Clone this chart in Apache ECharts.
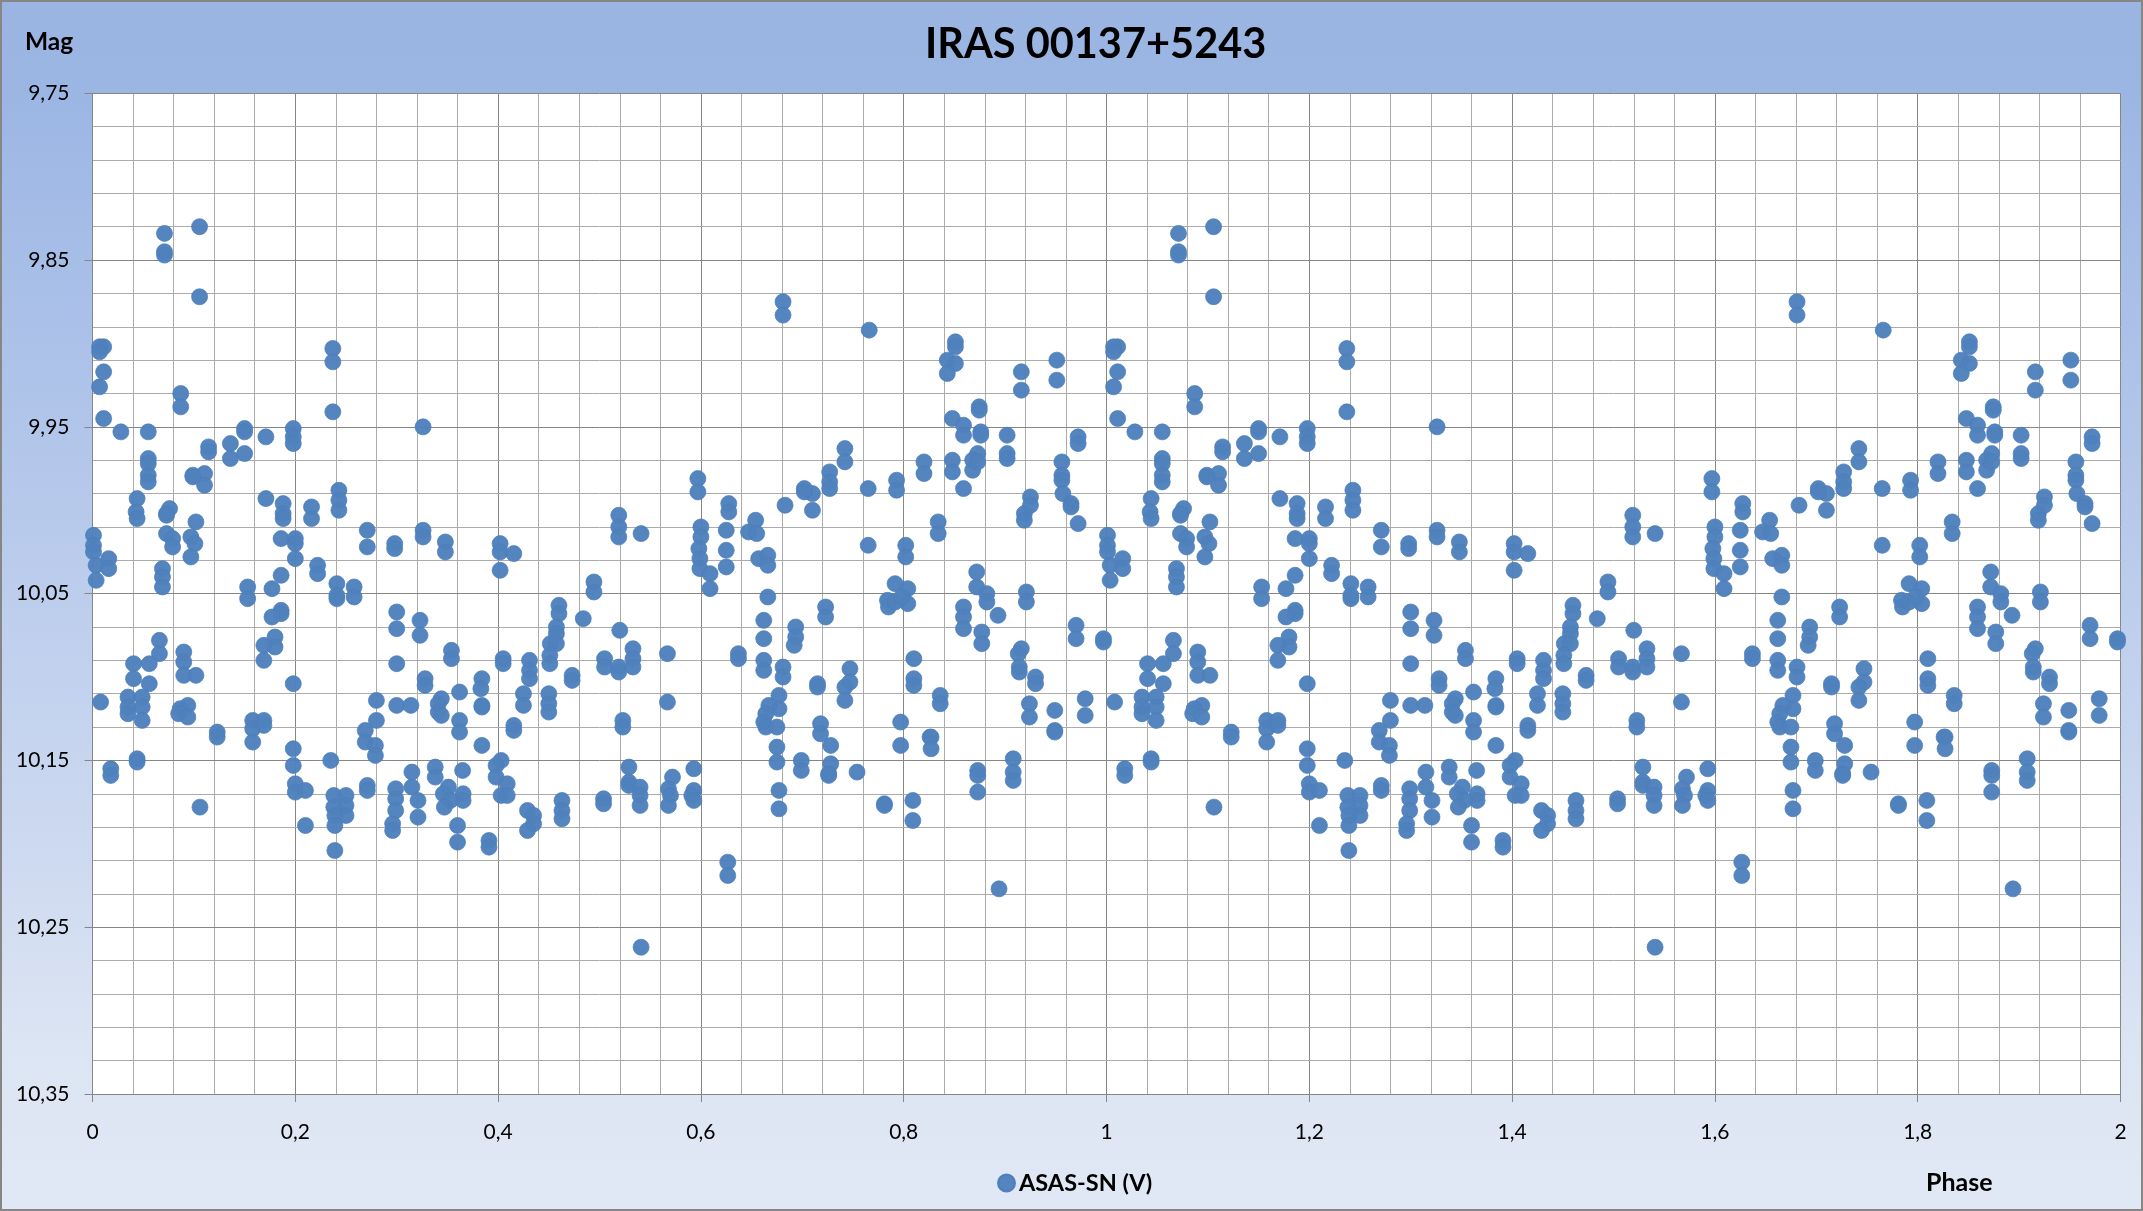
<!DOCTYPE html>
<html><head><meta charset="utf-8">
<style>html,body{margin:0;padding:0;background:#fff}#c{width:2143px;height:1211px}</style>
<script src="https://cdn.jsdelivr.net/npm/echarts@6/dist/echarts.min.js"></script>
</head><body><div id="c"></div>
<script>
const chartTitle = 'IRAS 00137+5243';
const seriesName = 'ASAS-SN (V)';
const xLabelValues = [0,0.2,0.4,0.6,0.8,1,1.2,1.4,1.6,1.8,2];
const yMajorValues = [9.75,9.85,9.95,10.05,10.15,10.25,10.35];
const yMinorValues = [9.77,9.79,9.81,9.83,9.87,9.89,9.91,9.93,9.97,9.99,10.01,10.03,10.07,10.09,10.11,10.13,10.17,10.19,10.21,10.23,10.27,10.29,10.31,10.33];
// One folded cycle [phase, magnitude]; the chart plots the cycle twice (phase, phase + 1).
const cycleBright = [
[.071,9.834],[.1056,9.83],[.071,9.845],[.071,9.847],[.1056,9.872],[.011,9.902],[.007,9.902],[.007,9.905],[.011,9.917],[.007,9.926],
[.237,9.903],[.237,9.911],[.087,9.93],[.087,9.938],[.237,9.941],[.011,9.945],[.028,9.953],[.055,9.953],[.326,9.95],[.15,9.951],[.15,9.953],
[.171,9.956],[.198,9.951],[.198,9.956],[.198,9.96],[.136,9.96],[.136,9.969],[.15,9.966],[.1145,9.962],[.1145,9.965],
[.055,9.969],[.055,9.972],[.055,9.979],[.055,9.983],[.099,9.979],[.1105,9.978],[.1105,9.985],[.099,9.98],
[.044,9.993],[.043,10.001],[.044,10.005],[.076,9.999],[.073,10.002],[.073,10.003],[.102,10.007],[.171,9.993],
[.188,9.996],[.188,10.002],[.188,10.005],[.216,9.998],[.216,10.005],[.243,9.988],[.243,9.994],[.243,10.0],[.271,10.012],[.326,10.012]
];
const cycleMiddleLeft = [
[.001,10.015],[.001,10.021],[.001,10.025],[.0036,10.033],[.0036,10.042],[.016,10.029],[.016,10.035],[.073,10.014],[.079,10.017],[.079,10.022],
[.097,10.016],[.101,10.02],[.097,10.028],[.069,10.035],[.069,10.04],[.069,10.046],[.186,10.017],[.2,10.017],[.2,10.02],[.2,10.029],
[.222,10.033],[.222,10.038],[.186,10.039],[.177,10.047],[.153,10.046],[.153,10.053],[.241,10.044],[.241,10.053],[.241,10.051],[.258,10.046],[.258,10.052],
[.271,10.022],[.298,10.02],[.298,10.023],[.326,10.016],[.348,10.019],[.348,10.025],[.402,10.02],[.402,10.025],[.402,10.036],[.4155,10.026],
[.4945,10.043],[.4945,10.049],[.186,10.06],[.186,10.062],[.177,10.064],[.18,10.076],[.18,10.082],[.169,10.081],[.169,10.09],
[.066,10.078],[.066,10.086],[.0405,10.092],[.0405,10.101],[.056,10.092],[.056,10.104],[.09,10.085],[.09,10.091],[.09,10.099],[.102,10.099],
[.008,10.115],[.035,10.112],[.035,10.118],[.035,10.122],[.049,10.112],[.049,10.118],[.049,10.126],[.094,10.117],[.0865,10.119],[.085,10.122],[.094,10.124],
[.123,10.133],[.123,10.136],[.158,10.126],[.158,10.131],[.158,10.139],[.169,10.126],[.169,10.129],[.198,10.104],[.198,10.143],[.198,10.153],
[.044,10.149],[.044,10.151],[.018,10.155],[.018,10.159],[.235,10.15],[.28,10.114],[.28,10.126],[.3,10.117],[.314,10.117],
[.269,10.132],[.269,10.139],[.279,10.141],[.279,10.147]
];
const cycleMiddleRight = [
[.3,10.061],[.3,10.071],[.3,10.092],[.323,10.066],[.323,10.075],[.328,10.101],[.328,10.105],[.354,10.084],[.354,10.089],[.405,10.089],[.405,10.092],
[.431,10.09],[.431,10.096],[.431,10.101],[.384,10.101],[.383,10.107],[.384,10.117],[.384,10.118],[.362,10.109],[.344,10.113],[.341,10.116],[.341,10.121],[.344,10.123],
[.362,10.126],[.362,10.133],[.384,10.141],[.425,10.11],[.425,10.117],[.45,10.11],[.45,10.116],[.45,10.121],[.4155,10.129],[.4155,10.132],
[.46,10.057],[.46,10.062],[.4575,10.07],[.4575,10.074],[.4515,10.08],[.4575,10.08],[.451,10.087],[.451,10.092],[.484,10.065],[.473,10.099],[.473,10.102]
];
const cycleFaintLeft = [
[.403,10.15],[.398,10.153],[.398,10.16],[.409,10.164],[.403,10.171],[.409,10.171],[.365,10.156],[.338,10.154],[.338,10.16],[.315,10.157],[.315,10.166],
[.321,10.174],[.321,10.184],[.299,10.167],[.299,10.173],[.299,10.18],[.296,10.188],[.296,10.192],[.271,10.165],[.271,10.168],
[.2,10.164],[.2,10.169],[.21,10.168],[.106,10.178],[.21,10.189],[.238,10.171],[.25,10.171],[.25,10.177],[.25,10.183],[.238,10.178],[.239,10.183],[.239,10.189],[.239,10.204],
[.351,10.166],[.346,10.17],[.3655,10.17],[.3655,10.174],[.353,10.174],[.347,10.178],[.36,10.189],[.36,10.199],[.391,10.198],[.391,10.202],
[.429,10.18],[.435,10.183],[.435,10.188],[.429,10.192],[.463,10.174],[.463,10.18],[.463,10.185]
];
const cycleRising = [
[.681,9.875],[.681,9.883],[.766,9.892],[.851,9.899],[.851,9.902],[.843,9.91],[.851,9.912],[.843,9.918],[.916,9.917],[.916,9.928],[.951,9.91],[.951,9.922],
[.8745,9.938],[.8745,9.94],[.848,9.945],[.859,9.949],[.859,9.955],[.876,9.953],[.876,9.955],[.902,9.955],[.902,9.966],[.902,9.969],[.972,9.956],[.972,9.96],
[.873,9.966],[.868,9.97],[.868,9.976],[.873,9.971],[.848,9.97],[.848,9.977],[.859,9.987],[.82,9.971],[.82,9.978],[.793,9.982],[.793,9.988],[.765,9.987],
[.742,9.963],[.742,9.971],[.727,9.977],[.727,9.983],[.727,9.987],[.702,9.987],[.71,9.99],[.702,9.989],[.71,10.0],[.683,9.997],[.6275,9.996],[.6275,10.001],
[.597,9.981],[.597,9.989],[.519,10.003],[.519,10.01],[.519,10.016],[.541,10.014],[.6,10.01],[.6,10.016],[.598,10.023],[.599,10.029],[.599,10.035],
[.609,10.038],[.609,10.047],[.625,10.012],[.625,10.024],[.625,10.034],[.654,10.006],[.647,10.013],[.655,10.014],[.657,10.029],[.666,10.027],[.666,10.033],[.666,10.052],
[.662,10.066],[.662,10.077],[.662,10.09],[.662,10.096],[.6935,10.07],[.6935,10.076],[.692,10.081],[.723,10.058],[.723,10.064],[.765,10.021],[.834,10.007],[.834,10.014],[.802,10.021],[.802,10.028]
];
const cycleRightMiddle = [
[.919,10.002],[.925,9.992],[.925,9.997],[.919,10.006],[.956,9.971],[.956,9.979],[.956,9.982],[.957,9.99],[.965,9.996],[.965,9.998],[.972,10.008],
[.872,10.037],[.872,10.046],[.882,10.05],[.882,10.055],[.921,10.049],[.921,10.055],[.859,10.058],[.859,10.064],[.859,10.071],[.893,10.063],[.877,10.073],[.877,10.08],
[.97,10.069],[.97,10.077],[.7915,10.044],[.804,10.047],[.784,10.054],[.785,10.058],[.7915,10.055],[.804,10.056],[.798,10.052],
[.916,10.083],[.913,10.086],[.914,10.094],[.914,10.097],[.93,10.1],[.93,10.104],[.997,10.077],[.997,10.079],[.52,10.072],
[.505,10.089],[.505,10.094],[.519,10.094],[.519,10.097],[.533,10.083],[.533,10.089],[.533,10.094],[.567,10.086],[.637,10.086],[.637,10.089],[.681,10.094],[.681,10.1],
[.81,10.089],[.81,10.101],[.81,10.105],[.747,10.095],[.747,10.103],[.742,10.106],[.742,10.114],[.715,10.104],[.715,10.106],
[.677,10.111],[.677,10.119],[.667,10.117],[.664,10.122],[.662,10.127],[.664,10.13],[.675,10.13],[.567,10.115],[.523,10.126],[.523,10.13],[.718,10.128],[.718,10.134],
[.797,10.127],[.836,10.111],[.836,10.116],[.826,10.136],[.924,10.116],[.924,10.124],[.949,10.12],[.949,10.132],[.979,10.113],[.979,10.123]
];
const cycleFaintRight = [
[.529,10.154],[.529,10.163],[.529,10.165],[.54,10.166],[.54,10.171],[.54,10.177],[.504,10.173],[.504,10.176],[.572,10.16],[.568,10.167],[.57,10.171],[.568,10.177],
[.593,10.155],[.593,10.168],[.591,10.171],[.593,10.174],[.6265,10.211],[.6265,10.219],[.541,10.262],[.675,10.142],[.675,10.151],[.677,10.168],[.677,10.179],
[.699,10.15],[.699,10.156],[.728,10.141],[.728,10.152],[.726,10.158],[.726,10.159],[.754,10.157],[.781,10.176],[.781,10.177],[.809,10.174],[.809,10.186],[.797,10.141],
[.827,10.136],[.827,10.143],[.873,10.156],[.873,10.159],[.873,10.169],[.908,10.149],[.908,10.157],[.908,10.162],[.894,10.227],[.949,10.133]
];
const cycleOne = [...cycleBright,...cycleMiddleLeft,...cycleMiddleRight,...cycleFaintLeft,...cycleRising,...cycleRightMiddle,...cycleFaintRight];
const points = [...cycleOne, ...cycleOne.map(p => [p[0] + 1, p[1]])];

const comma = v => String(+(+v).toFixed(2)).replace('.', ',');
const FONT = 'Lato';
const chart = echarts.init(document.getElementById('c'), null, {renderer:'canvas'});
chart.setOption({
  animation:false,
  backgroundColor:{type:'linear',x:0,y:0,x2:0,y2:1,colorStops:[
    {offset:0,color:'#9BB5E3'},{offset:.08,color:'#9CB6E4'},{offset:.4,color:'#B5C8EB'},{offset:.7,color:'#CDD9F0'},{offset:.87,color:'#DCE5F3'},{offset:1,color:'#E1E8F5'}]},
  grid:{left:92.5,right:22.5,top:93.3,bottom:117,backgroundColor:'#fff',show:true,borderWidth:0},
  title:[
    {text:chartTitle,left:925,top:24,textStyle:{fontFamily:FONT,fontWeight:'bold',fontSize:41.5,color:'#000'},padding:0},
    {text:'Mag',left:25,top:30,textStyle:{fontFamily:FONT,fontWeight:'bold',fontSize:24.5,color:'#000'},padding:0},
    {text:'Phase',left:1926,top:1170,textStyle:{fontFamily:FONT,fontWeight:'bold',fontSize:25,color:'#000'},padding:0}
  ],
  legend:{show:true,left:997,top:1171,itemWidth:17,itemHeight:17,itemGap:6,padding:0,data:[{name:seriesName,icon:'circle'}],
    textStyle:{fontFamily:FONT,fontWeight:'bold',fontSize:23.5,color:'#000',padding:[0,0,0,-1]}},
  xAxis:{type:'value',min:0,max:2,interval:.2,
    axisLine:{show:true,onZero:false,lineStyle:{color:'#868686',width:1}},
    axisTick:{show:true,inside:false,length:8,lineStyle:{color:'#868686',width:1},customValues:xLabelValues},
    axisLabel:{margin:28,fontFamily:FONT,fontSize:21,color:'#000',formatter:comma,customValues:xLabelValues,hideOverlap:false},
    splitLine:{show:true,lineStyle:{color:'#868686',width:1}},
    minorTick:{show:false,splitNumber:5},
    minorSplitLine:{show:true,lineStyle:{color:'#ABABAB',width:1}}},
  yAxis:[
    {type:'value',inverse:true,min:9.75,max:10.35,
      axisLine:{show:true,onZero:false,lineStyle:{color:'#868686',width:1}},
      axisTick:{show:true,length:8,lineStyle:{color:'#868686',width:1},customValues:yMajorValues},
      axisLabel:{margin:23,fontFamily:FONT,fontSize:21,color:'#000',formatter:comma,customValues:yMajorValues},
      splitLine:{show:true,lineStyle:{color:'#868686',width:1}},z:3},
    {type:'value',inverse:true,min:9.75,max:10.35,position:'left',
      axisLine:{show:false},axisLabel:{show:false},
      axisTick:{show:false,customValues:yMinorValues},
      splitLine:{show:true,lineStyle:{color:'#ABABAB',width:1}},z:1}
  ],
  graphic:[{type:'rect',silent:true,z:100,shape:{x:1,y:1,width:2141,height:1209},
    style:{fill:'none',stroke:'#868686',lineWidth:2}}],
  series:[{type:'scatter',name:seriesName,data:points,xAxisIndex:0,yAxisIndex:0,symbol:'circle',symbolSize:16,clip:false,z:10,
    itemStyle:{color:'#4F81BD',opacity:.97,borderColor:'#4A7EBB',borderWidth:.75}}]
});
</script></body></html>
